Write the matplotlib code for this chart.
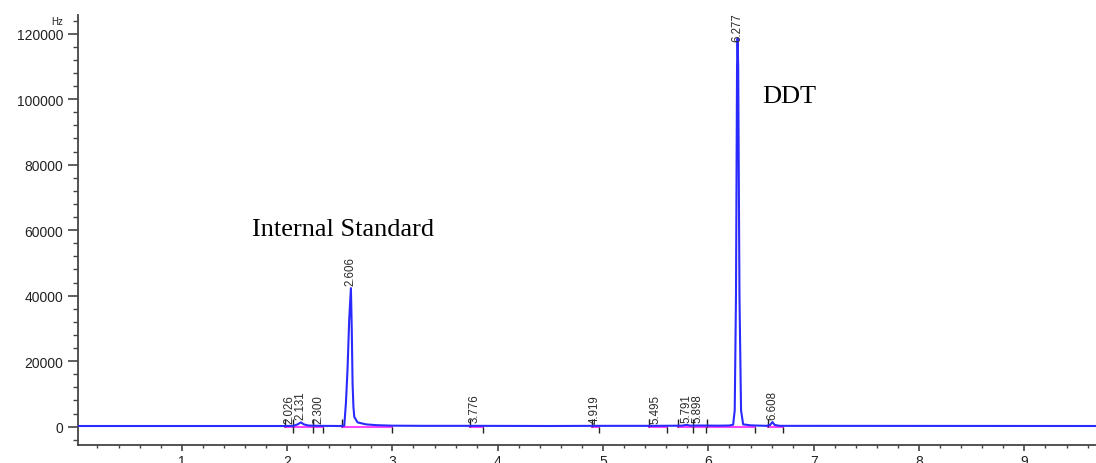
import numpy as np
import matplotlib
matplotlib.use("Agg")
import matplotlib.pyplot as plt
from matplotlib.ticker import MultipleLocator

# chromatogram trace (time in min, signal in Hz)
trace_t = [0.0, 1.98, 2.06, 2.10, 2.131, 2.16, 2.20, 2.30, 2.50, 2.543, 2.559, 2.574,
           2.590, 2.606, 2.614, 2.622, 2.630, 2.638, 2.669, 2.75, 2.85, 3.00, 3.30,
           3.776, 4.50, 4.919, 5.495, 5.75, 5.791, 5.83, 5.898, 6.10, 6.20, 6.235,
           6.25, 6.262, 6.272, 6.277, 6.283, 6.295, 6.31, 6.33, 6.40, 6.55, 6.585,
           6.608, 6.63, 6.68, 9.70]
trace_y = [200, 200, 250, 700, 1300, 700, 350, 250, 200, 300, 7400, 17600,
           32800, 42300, 30000, 13000, 6000, 3000, 1300, 700, 450, 300, 250,
           250, 200, 250, 250, 300, 550, 300, 350, 300, 350, 600,
           5000, 40000, 110000, 118500, 110000, 40000, 5000, 700, 400, 250, 500,
           1400, 500, 250, 200]

# peak table
peak_rt = [2.026, 2.131, 2.300, 2.606, 3.776, 4.919, 5.495, 5.791, 5.898, 6.277, 6.608]
peak_h = [250, 1300, 300, 42300, 400, 300, 300, 600, 400, 117000, 1400]
int_start = [1.98, 2.06, 2.25, 2.52, 3.74, 4.894, 5.438, 5.716, 5.858, 5.99, 6.57]
int_end = [2.06, 2.25, 2.345, 3.00, 3.86, 4.966, 5.606, 5.858, 5.98, 6.445, 6.704]

fig = plt.figure(figsize=(10.96, 4.64), dpi=100)
ax = fig.add_axes([78 / 1096, 18 / 464, 1 - 78 / 1096, (446 - 16) / 464])

# integration baselines
for s, e in zip(int_start, int_end):
    ax.plot([s, e], [0, 0], color="#ff44ff", lw=1.5, zorder=2)
ax.vlines(int_start, 0, 2200, color="#222222", lw=1.0, zorder=3)
ax.vlines(int_end, -1800, 0, color="#222222", lw=1.0, zorder=3)

ax.plot(trace_t, trace_y, color="#2a2aff", lw=1.5, zorder=4)

for rt, h in zip(peak_rt, peak_h):
    ax.text(rt, max(h, 0) + 900, "%.3f" % rt, rotation=90, ha="center", va="bottom",
            fontsize=8.3, family="Liberation Sans", color="#2a2a2a", zorder=5)

ax.text(1.665, 58500, "Internal Standard", fontsize=19, family="Liberation Serif",
        va="baseline", ha="left")
ax.text(6.508, 99000, "DDT", fontsize=19, family="Liberation Serif",
        va="baseline", ha="left")

ax.set_xlim(0.015, 9.68)
ax.set_ylim(-5600, 125700)
ax.xaxis.set_major_locator(MultipleLocator(1))
ax.xaxis.set_minor_locator(MultipleLocator(0.2))
ax.yaxis.set_major_locator(MultipleLocator(20000))
ax.yaxis.set_minor_locator(MultipleLocator(4000))
ax.set_xticks(range(1, 10))
for sp in ["top", "right"]:
    ax.spines[sp].set_visible(False)
for sp in ["left", "bottom"]:
    ax.spines[sp].set_color("#444444")
    ax.spines[sp].set_linewidth(1.3)
ax.tick_params(axis="y", which="major", length=7, width=1.2, color="#444444",
               pad=3.5, labelsize=10, labelcolor="#222222")
ax.tick_params(axis="y", which="minor", length=3.5, width=1.0, color="#444444")
ax.tick_params(axis="x", which="major", length=4.5, width=1.2, color="#444444",
               pad=2, labelsize=10, labelcolor="#222222")
ax.tick_params(axis="x", which="minor", length=2, width=1.0, color="#444444")
for lab in ax.get_xticklabels() + ax.get_yticklabels():
    lab.set_family("Liberation Sans")

fig.text(63 / 1096, 1 - 25 / 464, "Hz", ha="right", va="baseline", fontsize=7,
         family="Liberation Sans", color="#222222")

fig.savefig("out.png", dpi=100)
